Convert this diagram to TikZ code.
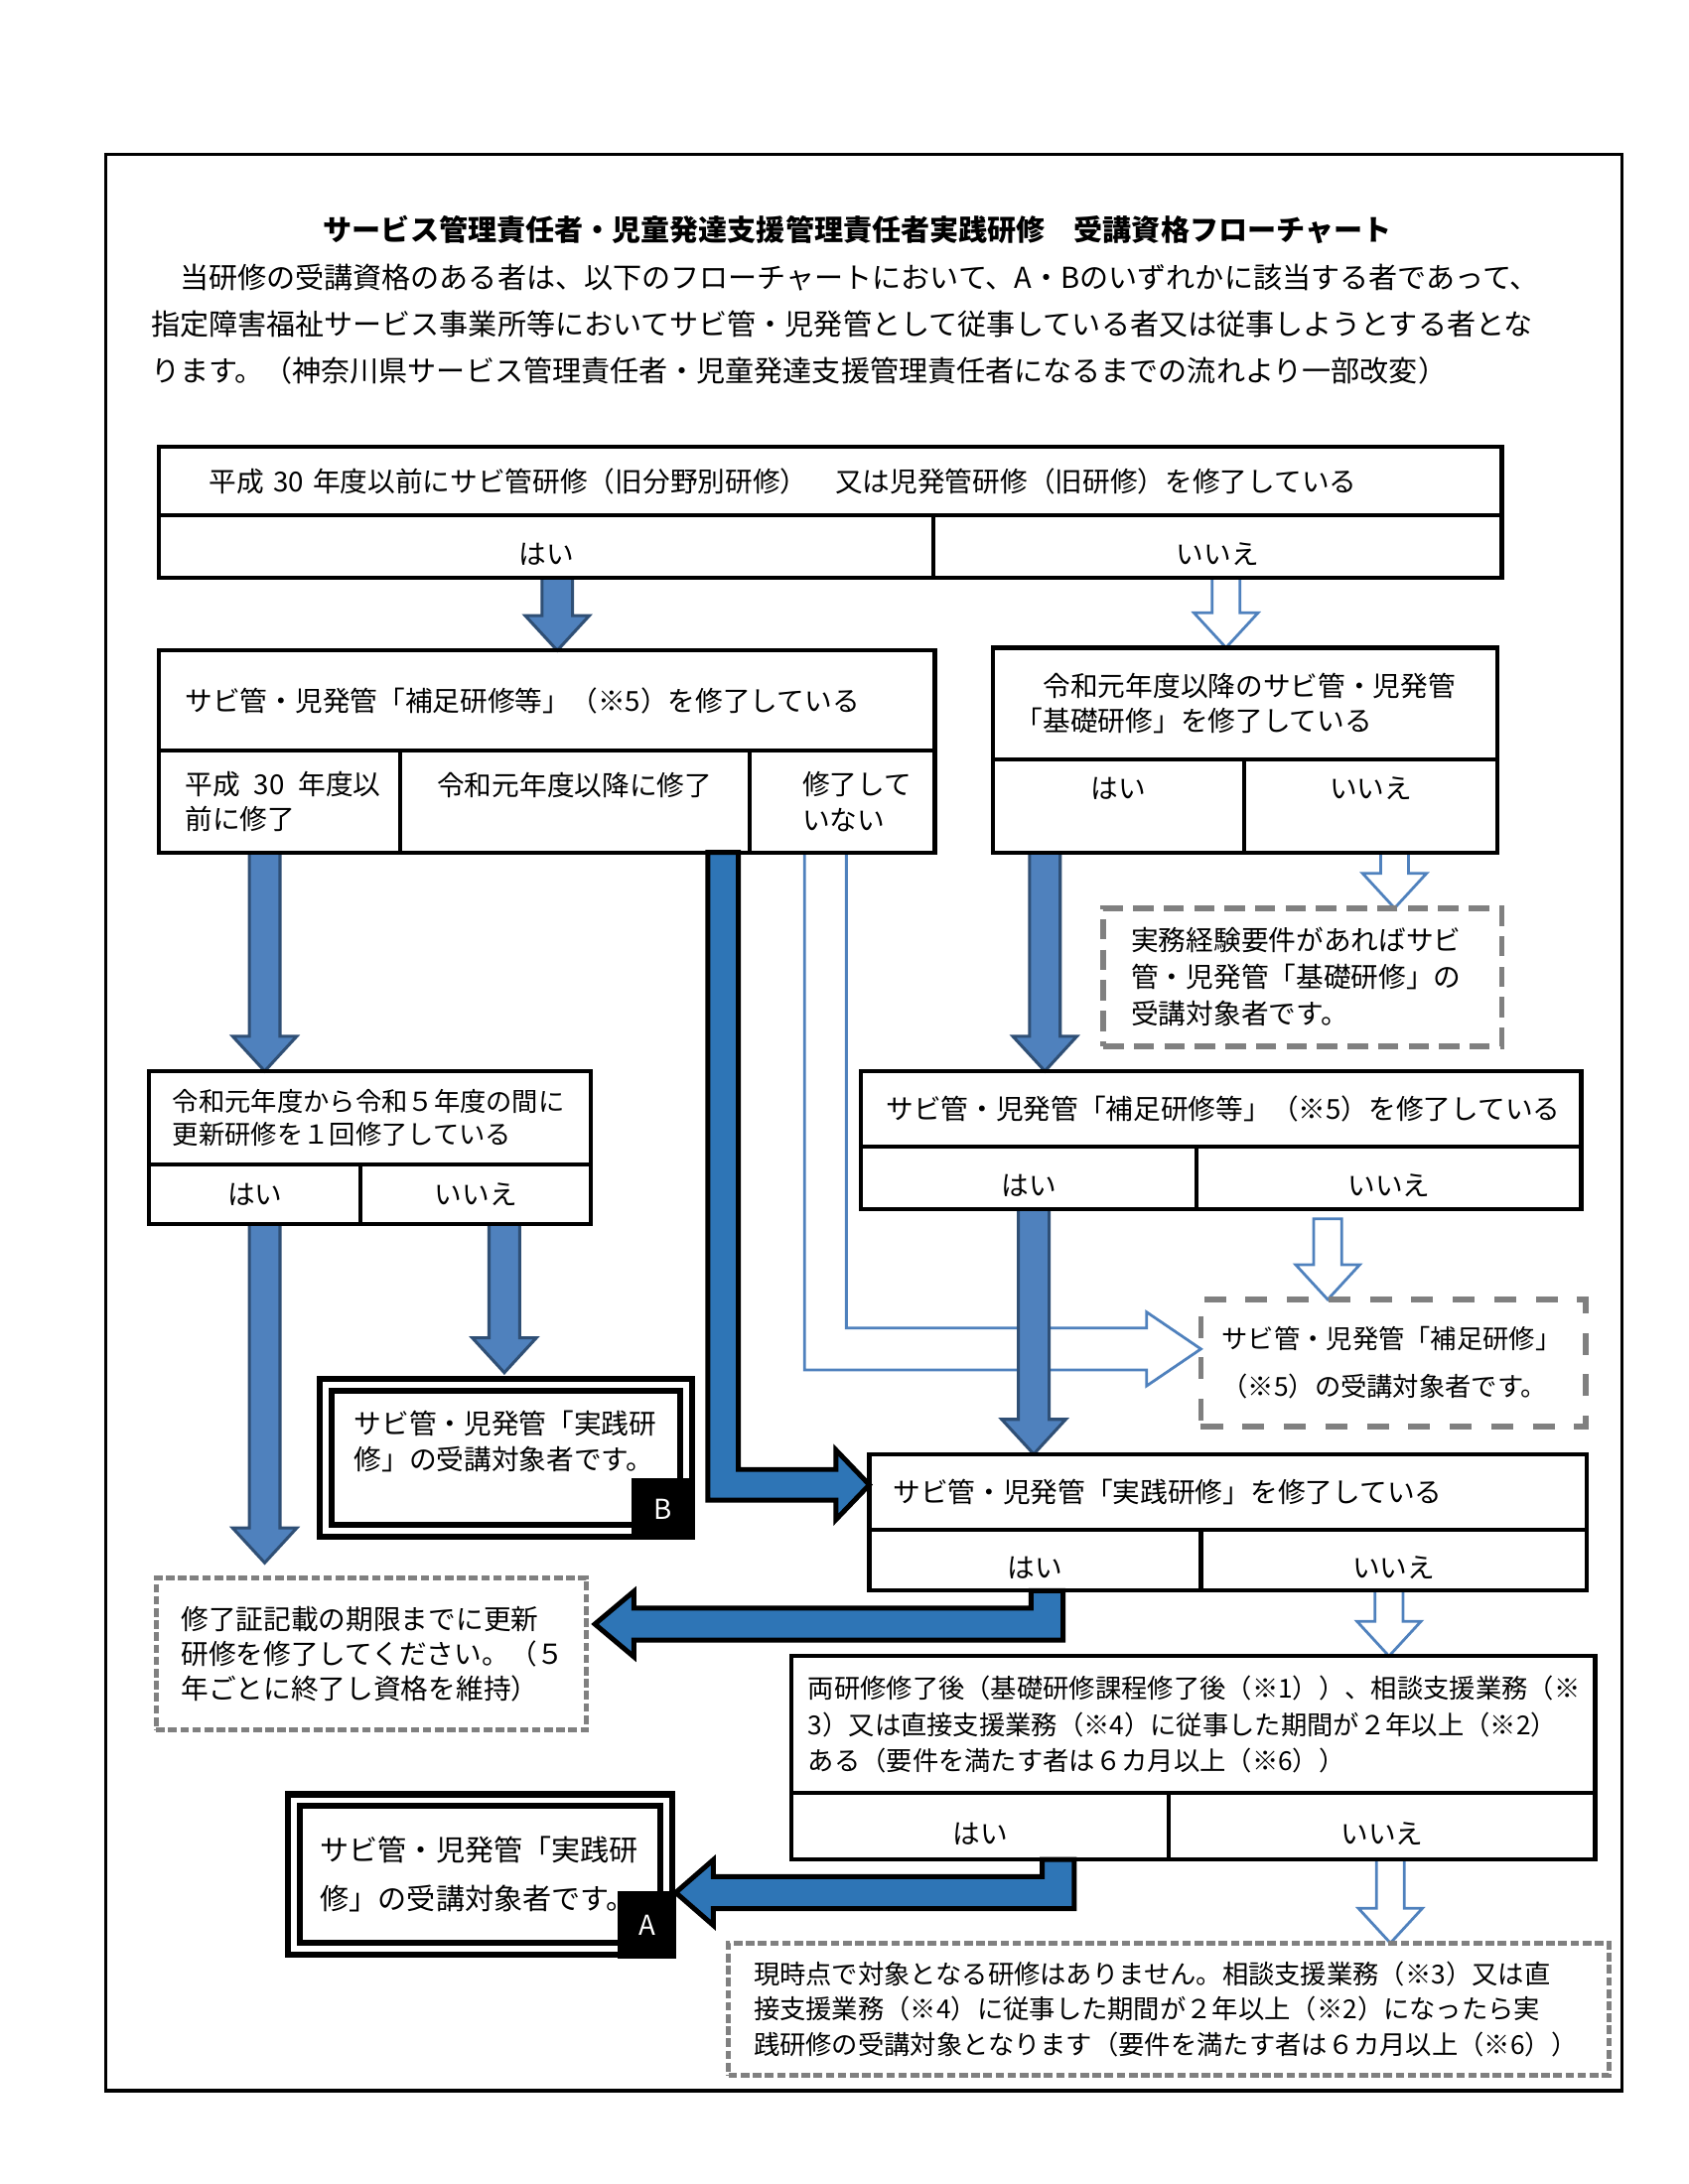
\documentclass[tikz,border=0pt]{standalone}
\usepackage{fontspec}
\setmainfont{Noto Sans CJK JP}
\usepackage{xcolor}
\usepackage{tikz}
\usetikzlibrary{calc,positioning,backgrounds}

\definecolor{arrblue}{HTML}{4F81BD}
\definecolor{arrline}{HTML}{2F4F75}
\definecolor{bentblue}{HTML}{2E75B6}
\definecolor{dashgray}{HTML}{808080}

\newlength{\pxu}
\setlength{\pxu}{0.017814cm}

\newcommand{\fsbig}{\fontsize{10.5}{17}\selectfont}
\newcommand{\fsten}{\fontsize{10}{12.8}\selectfont}

% straight block arrow pointing down
\newcommand{\downblk}[5]{%
  \coordinate (s) at ($(#3.south)+(#4)$);
  \coordinate (t) at (s |- #5);
  \draw[#1] ($(s)+(-#2,0)$) -- ($(t)+(-#2,-25)$) -- ($(t)+(-23,-25)$) -- (t)
    -- ($(t)+(23,-25)$) -- ($(t)+(#2,-25)$) -- ($(s)+(#2,0)$) -- cycle;
}
% bent block arrows: down, then right or left
\newcommand{\rightblk}[6]{%
  \coordinate (c) at (#3 |- #4);
  \draw[#1] ($(#3)+(-#2,0)$) -- ($(c)+(-#2,#2)$) -- ($(#4)+(-#6,#2)$) -- ($(#4)+(-#6,#5)$) -- (#4)
    -- ($(#4)+(-#6,-#5)$) -- ($(#4)+(-#6,-#2)$) -- ($(c)+(#2,-#2)$) -- ($(#3)+(#2,0)$) -- cycle;
}
\newcommand{\leftblk}[6]{%
  \coordinate (c) at (#3 |- #4);
  \draw[#1] ($(#3)+(#2,0)$) -- ($(c)+(#2,#2)$) -- ($(#4)+(#6,#2)$) -- ($(#4)+(#6,#5)$) -- (#4)
    -- ($(#4)+(#6,-#5)$) -- ($(#4)+(#6,-#2)$) -- ($(c)+(-#2,-#2)$) -- ($(#3)+(-#2,0)$) -- cycle;
}

\begin{document}
\begin{tikzpicture}[x=0.017814cm, y=-0.017814cm,
    cell/.style={draw, line width=1.5pt, anchor=north west, inner sep=0pt, outer sep=0pt, font=\fsten, align=center},
    lowtext/.style={text height=13pt, text depth=0pt},
    dbox/.style={draw, line width=2.2pt, double, double distance=2.1pt, anchor=north west, inner sep=0pt, outer sep=0pt, align=left},
    dashbox/.style={draw=dashgray, line width=2.1pt, dash pattern=on 0.26cm off 0.13cm, anchor=north west, inner sep=0pt, outer sep=0pt, align=left},
    dotbox/.style={draw=dashgray, line width=1.9pt, dash pattern=on 0.11cm off 0.045cm, anchor=north west, inner sep=0pt, outer sep=0pt, align=left},
    tag/.style={fill=black, text=white, anchor=south east, inner sep=0pt, outer sep=0pt, font=\fsten},
    solidarr/.style={fill=arrblue, draw=arrline, line width=1.1pt},
    openarr/.style={fill=white, draw=arrblue, line width=1pt},
    bentarr/.style={fill=bentblue, draw=black, line width=1.8pt}
]
    \useasboundingbox (0,0) rectangle (1212,1568);

    % Outer frame
    \draw[line width=1.2pt] (76,111) rectangle (1164,1501);

    % Title and introduction
    \node[font=\fsbig\bfseries] (title) at (615.5,165) {サービス管理責任者・児童発達支援管理責任者実践研修　受講資格フローチャート};
    \node[font=\fsbig, anchor=west, align=left, inner sep=0pt] (intro) at (108,233) {　当研修の受講資格のある者は、以下のフローチャートにおいて、A・Bのいずれかに該当する者であって、\\指定障害福祉サービス事業所等においてサビ管・児発管として従事している者又は従事しようとする者とな\\ります。（神奈川県サービス管理責任者・児童発達支援管理責任者になるまでの流れより一部改変）};

    % First question
    \node[cell, align=left, minimum width=964\pxu, minimum height=49\pxu, text width=892\pxu] (q1) at (114,321) {平成~30~年度以前にサビ管研修（旧分野別研修）　又は児発管研修（旧研修）を修了している};
    \node[cell, lowtext, minimum width=556\pxu, minimum height=45\pxu] (yes1) at (q1.south west) {はい};
    \node[cell, lowtext, minimum width=408\pxu, minimum height=45\pxu] (no1) at (yes1.north east) {いいえ};

    % Left branch
    \node[cell, align=left, minimum width=557\pxu, minimum height=72\pxu, text width=519\pxu] (q2) at (114,467) {サビ管・児発管「補足研修等」（※5）を修了している};
    \node[cell, align=left, minimum width=173\pxu, minimum height=73\pxu, text width=135\pxu] (since30) at (q2.south west) {平成\enspace 30\enspace 年度以\\前に修了};
    \node[cell, minimum width=251\pxu, minimum height=73\pxu] (afterR1) at (since30.north east) {令和元年度以降に修了\\~};
    \node[cell, align=left, minimum width=133\pxu, minimum height=73\pxu, text width=57\pxu] (notdone) at (afterR1.north east) {修了して\\いない};

    % Right branch
    \node[cell, align=left, minimum width=362\pxu, minimum height=80\pxu, text width=330\pxu, font=\fontsize{10}{12.6}\selectfont] (q3) at (713,465) {　令和元年度以降のサビ管・児発管\\「基礎研修」を修了している};
    \node[cell, minimum width=180\pxu, minimum height=67\pxu] (yes3) at (q3.south west) {はい\\~};
    \node[cell, minimum width=182\pxu, minimum height=67\pxu] (no3) at (yes3.north east) {いいえ\\~};
    \node[dashbox, minimum width=286\pxu, minimum height=99\pxu, text width=246\pxu, font=\fontsize{10}{13.3}\selectfont] (basic) at (792,652) {実務経験要件があればサビ\\管・児発管「基礎研修」の\\受講対象者です。};

    % Renewal question
    \node[cell, align=left, minimum width=317\pxu, minimum height=67\pxu, text width=283\pxu, font=\fontsize{9.5}{12.1}\selectfont] (q4) at (107,769) {令和元年度から令和５年度の間に\\更新研修を１回修了している};
    \node[cell, minimum width=152\pxu, minimum height=43\pxu] (yes4) at (q4.south west) {はい};
    \node[cell, minimum width=165\pxu, minimum height=43\pxu] (no4) at (yes4.north east) {いいえ};

    % Supplementary training question
    \node[cell, align=left, minimum width=517\pxu, minimum height=54\pxu, text width=481\pxu] (q5) at (618,769) {サビ管・児発管「補足研修等」（※5）を修了している};
    \node[cell, lowtext, minimum width=241\pxu, minimum height=45\pxu] (yes5) at (q5.south west) {はい};
    \node[cell, lowtext, minimum width=276\pxu, minimum height=45\pxu] (no5) at (yes5.north east) {いいえ};
    \node[dashbox, dash pattern=on 0.28cm off 0.25cm, minimum width=276\pxu, minimum height=91\pxu, text width=246\pxu, font=\fontsize{9.5}{17.2}\selectfont] (supp) at (862,933) {サビ管・児発管「補足研修」\\（※5）の受講対象者です。};

    % Target B
    \node[dbox, minimum width=258.5\pxu, minimum height=104.5\pxu, text width=218\pxu, font=\fontsize{10}{13.1}\selectfont] (targetB) at (234,994.5) {サビ管・児発管「実践研\\修」の受講対象者です。\\~};
    \node[tag, minimum width=46\pxu, minimum height=44\pxu] (tagB) at ($(targetB.south east)+(6.5,6.5)$) {B};

    % Practical training question
    \node[cell, align=left, minimum width=515\pxu, minimum height=54\pxu, text width=481\pxu] (q6) at (624,1044) {サビ管・児発管「実践研修」を修了している};
    \node[cell, lowtext, minimum width=238\pxu, minimum height=44\pxu] (yes6) at (q6.south west) {はい};
    \node[cell, lowtext, minimum width=277\pxu, minimum height=44\pxu] (no6) at (yes6.north east) {いいえ};
    \node[dotbox, minimum width=309\pxu, minimum height=109\pxu, text width=273\pxu, font=\fontsize{10}{12.6}\selectfont] (renew) at (112,1133) {修了証記載の期限までに更新\\研修を修了してください。（５\\年ごとに終了し資格を維持）};

    % Experience question
    \node[cell, align=left, minimum width=577\pxu, minimum height=98\pxu, text width=553\pxu, font=\fontsize{9.5}{13.1}\selectfont] (q7) at (568,1189) {両研修修了後（基礎研修課程修了後（※1））、相談支援業務（※\\3）又は直接支援業務（※4）に従事した期間が２年以上（※2）\\ある（要件を満たす者は６カ月以上（※6））};
    \node[cell, lowtext, minimum width=271\pxu, minimum height=48\pxu] (yes7) at (q7.south west) {はい};
    \node[cell, lowtext, minimum width=306\pxu, minimum height=48\pxu] (no7) at (yes7.north east) {いいえ};

    % Target A
    \node[dbox, minimum width=267\pxu, minimum height=106.5\pxu, text width=229\pxu, font=\fontsize{10.5}{17.7}\selectfont] (targetA) at (211,1292.5) {サビ管・児発管「実践研\\修」の受講対象者です。};
    \node[tag, minimum width=42\pxu, minimum height=48\pxu] (tagA) at ($(targetA.south east)+(7.5,7)$) {A};
    \node[dotbox, minimum width=632\pxu, minimum height=95\pxu, text width=596\pxu, font=\fontsize{9.5}{12.9}\selectfont] (noplan) at (523,1395) {現時点で対象となる研修はありません。相談支援業務（※3）又は直\\接支援業務（※4）に従事した期間が２年以上（※2）になったら実\\践研修の受講対象となります（要件を満たす者は６カ月以上（※6））};

    % Arrows
    \begin{scope}[on background layer]
        \downblk{solidarr}{11}{yes1}{8,0}{q2.north}
        \downblk{openarr}{10}{no1}{6,0}{q3.north}
        \downblk{solidarr}{11}{since30}{-10.5,0}{q4.north}
        \downblk{solidarr}{11}{yes3}{-53,0}{q5.north}
        \downblk{openarr}{10}{no3}{17,0}{basic.north}
        \coordinate (topE) at ($(renew.north)+(0,-11)$);
        \downblk{solidarr}{11}{yes4}{7,0}{topE}
        \coordinate (topB) at ($(targetB.north)+(0,-9)$);
        \downblk{solidarr}{11}{no4}{20.5,0}{topB}

        \coordinate (s) at ($(notdone.south)+(-12,0)$);
        \coordinate (t) at ($(supp.west)+(0,-10)$);
        \rightblk{openarr}{15}{s}{t}{26.5}{39}

        \downblk{solidarr}{11}{yes5}{3.5,0}{q6.north}
        \downblk{openarr}{10}{no5}{-44,7}{supp.north}
        \downblk{openarr}{10}{no6}{-3.5,0}{q7.north}
        \downblk{openarr}{10}{no7}{6,0}{noplan.north}

        \coordinate (s) at ($(afterR1.south east)+(-19,0)$);
        \coordinate (t) at ($(q6.west)+(0,-5)$);
        \rightblk{bentarr}{11}{s}{t}{25}{24}

        \coordinate (s) at ($(yes6.south)+(8.5,0)$);
        \coordinate (t) at ($(renew.north east)+(6,33)$);
        \leftblk{bentarr}{11.5}{s}{t}{23.5}{28}

        \coordinate (s) at ($(yes7.south)+(56,0)$);
        \coordinate (t) at ($(targetA.east)+(7,13)$);
        \leftblk{bentarr}{11.5}{s}{t}{23.5}{27}
    \end{scope}
\end{tikzpicture}
\end{document}
